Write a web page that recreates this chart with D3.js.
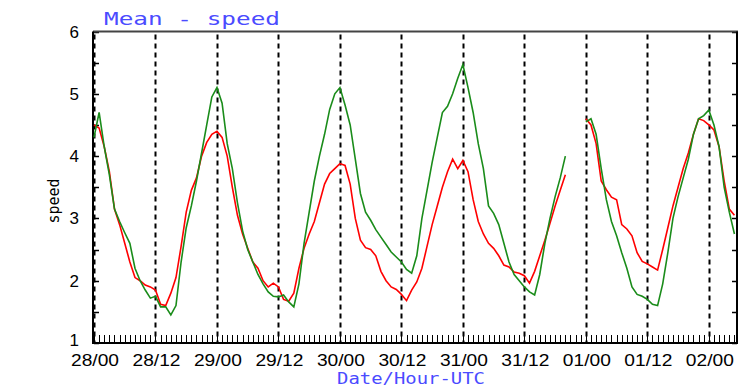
<!DOCTYPE html>
<html>
<head>
<meta charset="utf-8">
<script src="https://cdn.jsdelivr.net/npm/d3@7"></script>
<style>
html,body{margin:0;padding:0;background:#fff;}
svg{display:block;}
</style>
</head>
<body>
<svg id="chart" width="738" height="388"></svg>
<script>
// ---- data (hourly, from 28/00 UTC) ----
const tickLabels = ["28/00","28/12","29/00","29/12","30/00","30/12","31/00","31/12","01/00","01/12","02/00"];
const tickHours  = [0,12,24,36,48,60,72,84,96,108,120];
const yTicks = [1,2,3,4,5,6];

const seriesRed = [
4.5,4.45,4.15,3.75,3.15,2.9,2.6,2.3,2.05,2.0,1.93,1.9,1.85,1.62,1.6,1.8,2.05,2.55,3.1,3.45,3.65,4.0,4.22,4.35,
4.4,4.3,4.0,3.5,3.05,2.75,2.52,2.3,2.2,2.0,1.9,1.96,1.9,1.7,1.67,1.8,2.2,2.52,2.75,2.95,3.25,3.55,3.72,3.8,
3.88,3.85,3.55,3.0,2.65,2.53,2.5,2.4,2.15,2.0,1.9,1.86,1.78,1.68,1.85,1.98,2.2,2.55,2.9,3.2,3.5,3.75,3.95,3.8,
3.93,3.75,3.3,2.95,2.75,2.6,2.52,2.4,2.25,2.22,2.14,2.12,2.08,1.96,2.15,2.4,2.65,2.92,3.2,3.45,3.7,null,null,null,
4.6,4.5,4.2,3.6,3.46,3.34,3.3,2.9,2.83,2.72,2.45,2.31,2.27,2.22,2.17,2.5,2.85,3.2,3.5,3.8,4.05,4.35,4.6,4.57,
4.5,4.42,4.15,3.6,3.15,3.05
];
const seriesGreen = [
4.3,4.7,4.15,3.7,3.15,2.95,2.77,2.6,2.2,2.0,1.85,1.72,1.75,1.58,1.58,1.45,1.6,2.3,2.85,3.2,3.6,4.05,4.5,4.95,
5.1,4.85,4.2,3.8,3.25,2.8,2.5,2.3,2.1,1.95,1.82,1.75,1.74,1.77,1.66,1.58,1.95,2.6,3.1,3.6,4.0,4.35,4.75,5.0,
5.1,4.82,4.5,3.95,3.4,3.1,2.97,2.82,2.7,2.58,2.46,2.38,2.3,2.18,2.12,2.4,3.0,3.45,3.9,4.3,4.7,4.8,5.0,5.25,
5.47,5.1,4.7,4.2,3.8,3.2,3.08,2.9,2.6,2.3,2.1,2.0,1.9,1.82,1.77,2.1,2.6,3.0,3.35,3.65,4.0,null,null,null,
4.55,4.6,4.35,3.8,3.3,2.95,2.72,2.45,2.2,1.9,1.78,1.75,1.7,1.62,1.6,1.95,2.45,3.0,3.35,3.65,3.95,4.35,4.6,4.65,
4.74,4.5,4.15,3.5,3.1,2.75
];

// ---- layout ----
const svg = d3.select("#chart");
const L = 94, R = 737, T = 31.5, B = 343;
const x = d3.scaleLinear().domain([0, 125.5]).range([L, R]);
const y = d3.scaleLinear().domain([1, 6]).range([B, T]);

// dashed vertical grid at 12h
svg.append("g").selectAll("line").data(tickHours).join("line")
  .attr("x1", d => Math.round(x(d)) + 0.5).attr("x2", d => Math.round(x(d)) + 0.5)
  .attr("y1", T + 3).attr("y2", B)
  .attr("stroke", "#000").attr("stroke-width", 2)
  .attr("stroke-dasharray", "5,4");

// hourly ticks on bottom axis
const hrs = d3.range(0, 126);
svg.append("g").selectAll("line").data(hrs).join("line")
  .attr("x1", d => Math.round(x(d)) + 0.5).attr("x2", d => Math.round(x(d)) + 0.5)
  .attr("y1", B).attr("y2", B - 8)
  .attr("stroke", "#000").attr("stroke-width", 1);

// y minor/major ticks left and right
const yt = d3.range(1, 6.01, 0.5);
svg.append("g").selectAll("line").data(yt).join("line")
  .attr("x1", L).attr("x2", L + 5)
  .attr("y1", d => Math.round(y(d)) + 0.5).attr("y2", d => Math.round(y(d)) + 0.5)
  .attr("stroke", "#000").attr("stroke-width", 1.5);
svg.append("g").selectAll("line").data(yt).join("line")
  .attr("x1", R - 5).attr("x2", R)
  .attr("y1", d => Math.round(y(d)) + 0.5).attr("y2", d => Math.round(y(d)) + 0.5)
  .attr("stroke", "#000").attr("stroke-width", 1.5);

// frame
svg.append("line").attr("x1", L - 1).attr("x2", R + 1).attr("y1", T).attr("y2", T)
  .attr("stroke", "#444").attr("stroke-width", 2);
svg.append("line").attr("x1", L - 1).attr("x2", R + 1).attr("y1", B).attr("y2", B)
  .attr("stroke", "#000").attr("stroke-width", 2);
svg.append("line").attr("x1", L - 1).attr("x2", L - 1).attr("y1", T).attr("y2", B + 1)
  .attr("stroke", "#000").attr("stroke-width", 2);
svg.append("line").attr("x1", R).attr("x2", R).attr("y1", T).attr("y2", B + 1)
  .attr("stroke", "#000").attr("stroke-width", 2);

// lines
const line = d3.line()
  .defined(d => d != null)
  .x((d, i) => x(i))
  .y(d => y(d));
svg.append("path").datum(seriesRed).attr("d", line)
  .attr("fill", "none").attr("stroke", "#ff0000").attr("stroke-width", 1.6);
svg.append("path").datum(seriesGreen).attr("d", line)
  .attr("fill", "none").attr("stroke", "#1a8c1a").attr("stroke-width", 1.6);

// y labels
svg.append("g").selectAll("text").data(yTicks).join("text")
  .attr("x", 79).attr("y", d => y(d) + (d === 1 ? 3 : 6))
  .attr("text-anchor", "end")
  .attr("font-family", "Liberation Sans, Arial, sans-serif")
  .attr("font-size", 17).attr("fill", "#000")
  .text(d => d);

// x labels
svg.append("g").selectAll("text").data(tickHours).join("text")
  .attr("x", d => x(d) + 1).attr("y", 366)
  .attr("text-anchor", "middle")
  .attr("font-family", "Liberation Sans, Arial, sans-serif")
  .attr("font-size", 17).attr("fill", "#000")
  .attr("textLength", 48).attr("lengthAdjust", "spacingAndGlyphs")
  .text((d, i) => tickLabels[i]);

// axis titles
svg.append("text")
  .attr("transform", "translate(59,201) rotate(-90)")
  .attr("text-anchor", "middle")
  .attr("font-family", "DejaVu Sans Mono, monospace")
  .attr("font-size", 15).attr("fill", "#000")
  .text("speed");

svg.append("text")
  .attr("x", 337).attr("y", 384)
  .attr("font-family", "DejaVu Sans Mono, monospace")
  .attr("font-size", 15).attr("fill", "#4b4bff")
  .attr("textLength", 148).attr("lengthAdjust", "spacingAndGlyphs")
  .text("Date/Hour-UTC");

svg.append("text")
  .attr("x", 104).attr("y", 25)
  .attr("font-family", "DejaVu Sans Mono, monospace")
  .attr("font-size", 17).attr("fill", "#4b4bff")
  .attr("textLength", 176).attr("lengthAdjust", "spacingAndGlyphs")
  .text("Mean - speed");
</script>
</body>
</html>
